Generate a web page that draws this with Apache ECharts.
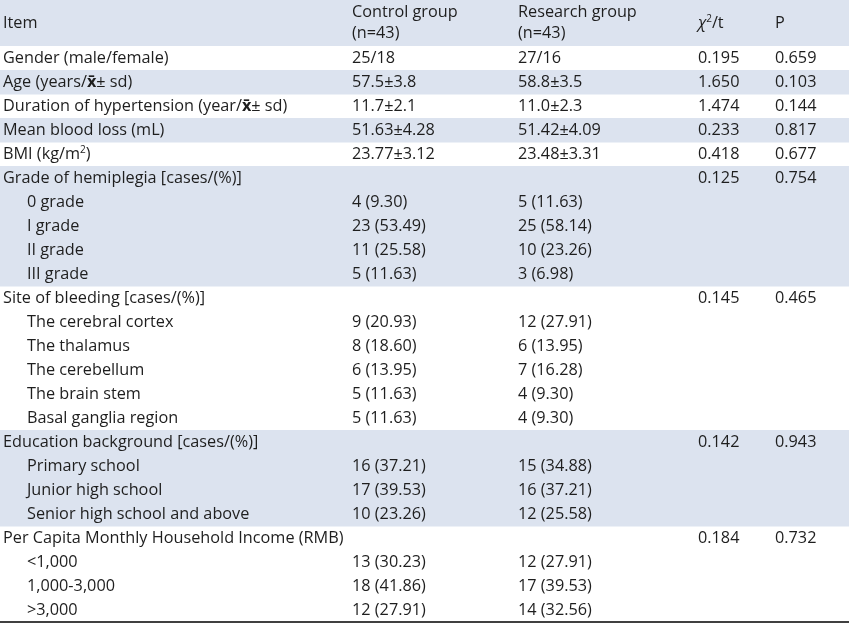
<!DOCTYPE html>
<html>
<head>
<meta charset="utf-8">
<script src="https://cdn.jsdelivr.net/npm/echarts@6.0.0/dist/echarts.min.js"></script>
<style>
html,body{margin:0;padding:0;background:#ffffff;}
#chart{width:849px;height:624px;}
</style>
</head>
<body>
<div id="chart"></div>
<script>
// ---- Table content ----
const headerItem = 'Item';
const headerControl = ['Control group', '(n=43)'];
const headerResearch = ['Research group', '(n=43)'];
const headerStat = '{chi|χ}{sup|2}/t';
const headerP = 'P';

const items = [
  'Gender (male/female)',
  'Age (years/{xb|x̄}± sd)',
  'Duration of hypertension (year/{xb|x̄}± sd)',
  'Mean blood loss (mL)',
  'BMI (kg/m{sup|2})',
  'Grade of hemiplegia [cases/(%)]',
  '0 grade',
  'I grade',
  'II grade',
  'III grade',
  'Site of bleeding [cases/(%)]',
  'The cerebral cortex',
  'The thalamus',
  'The cerebellum',
  'The brain stem',
  'Basal ganglia region',
  'Education background [cases/(%)]',
  'Primary school',
  'Junior high school',
  'Senior high school and above',
  'Per Capita Monthly Household Income (RMB)',
  '<1,000',
  '1,000-3,000',
  '>3,000'
];
const control = [
  '25/18', '57.5±3.8', '11.7±2.1', '51.63±4.28', '23.77±3.12',
  '', '4 (9.30)', '23 (53.49)', '11 (25.58)', '5 (11.63)',
  '', '9 (20.93)', '8 (18.60)', '6 (13.95)', '5 (11.63)', '5 (11.63)',
  '', '16 (37.21)', '17 (39.53)', '10 (23.26)',
  '', '13 (30.23)', '18 (41.86)', '12 (27.91)'
];
const research = [
  '27/16', '58.8±3.5', '11.0±2.3', '51.42±4.09', '23.48±3.31',
  '', '5 (11.63)', '25 (58.14)', '10 (23.26)', '3 (6.98)',
  '', '12 (27.91)', '6 (13.95)', '7 (16.28)', '4 (9.30)', '4 (9.30)',
  '', '15 (34.88)', '16 (37.21)', '12 (25.58)',
  '', '12 (27.91)', '17 (39.53)', '14 (32.56)'
];
const statValues = [
  '0.195', '1.650', '1.474', '0.233', '0.418',
  '0.125', '', '', '', '',
  '0.145', '', '', '', '', '',
  '0.142', '', '', '',
  '0.184', '', '', ''
];
const pValues = [
  '0.659', '0.103', '0.144', '0.817', '0.677',
  '0.754', '', '', '', '',
  '0.465', '', '', '', '', '',
  '0.943', '', '', '',
  '0.732', '', '', ''
];

// ---- Derived structure ----
const isSub = items.map((_, i) => control[i] !== '' && statValues[i] === '');
const groupIdx = [];
let g = -1;
items.forEach((_, i) => { if (statValues[i] !== '') g++; groupIdx.push(g); });
const shaded = groupIdx.map(v => v % 2 === 1);

// ---- Layout / style ----
const BAND = '#dce3ef';
const TEXT = '#1e1e1e';
const FONT_FAMILY = '"Open Sans", sans-serif';
const FONT_SIZE = 16.25;
const COLS = [3, 352, 518, 698, 775];
const SUB_INDENT = 27;
const HEADER_H = 44;
const RICH = {
  xb: { fontFamily: FONT_FAMILY, fontSize: FONT_SIZE, fontWeight: 'bold', fill: TEXT, color: TEXT },
  sup: { fontFamily: FONT_FAMILY, fontSize: 10, fill: TEXT, color: TEXT, verticalAlign: 'top', padding: [0, 0, 8, 0] },
  chi: { fontFamily: FONT_FAMILY, fontSize: FONT_SIZE, fontStyle: 'italic', fill: TEXT, color: TEXT }
};

const chart = echarts.init(document.getElementById('chart'), null, { renderer: 'canvas' });

function textEl(text, x, y) {
  return {
    type: 'text',
    style: {
      text: text, x: x, y: y,
      fill: TEXT,
      fontFamily: FONT_FAMILY,
      fontSize: FONT_SIZE,
      align: 'left',
      verticalAlign: 'middle',
      rich: RICH
    }
  };
}

const option = {
  animation: false,
  backgroundColor: '#ffffff',
  grid: { left: 0, right: 0, top: 46, bottom: 2, containLabel: false },
  xAxis: {
    type: 'value', min: 0, max: 1,
    axisLine: { show: true, onZero: false, lineStyle: { color: '#000000', width: 1.5 } },
    axisTick: { show: false }, axisLabel: { show: false }, splitLine: { show: false }
  },
  yAxis: {
    type: 'category', inverse: true,
    data: items.map((_, i) => String(i)),
    show: false
  },
  graphic: [
    { type: 'rect', shape: { x: 0, y: 0, width: 849, height: HEADER_H + 2 }, style: { fill: BAND }, z: -10 },
    Object.assign(textEl(headerItem, COLS[0], 23), { z: 10 }),
    Object.assign(textEl(headerControl[0], COLS[1], 12), { z: 10 }),
    Object.assign(textEl(headerControl[1], COLS[1], 33), { z: 10 }),
    Object.assign(textEl(headerResearch[0], COLS[2], 12), { z: 10 }),
    Object.assign(textEl(headerResearch[1], COLS[2], 33), { z: 10 }),
    Object.assign(textEl(headerStat, COLS[3], 23), { z: 10 }),
    Object.assign(textEl(headerP, COLS[4], 23), { z: 10 })
  ],
  series: [{
    type: 'custom',
    coordinateSystem: 'cartesian2d',
    data: items.map((_, i) => [0, i]),
    renderItem: function (params, api) {
      const i = api.value(1);
      const pt = api.coord([0, i]);
      const h = api.size([0, 1])[1];
      const cs = params.coordSys;
      const cy = pt[1];
      const children = [];
      if (shaded[i]) {
        children.push({
          type: 'rect',
          shape: { x: cs.x, y: cy - h / 2, width: cs.width, height: h + 0.6 },
          style: { fill: BAND }
        });
      }
      const cells = [items[i], control[i], research[i], statValues[i], pValues[i]];
      cells.forEach((t, k) => {
        if (!t) return;
        const x = cs.x + (k === 0 && isSub[i] ? SUB_INDENT : COLS[k]);
        children.push(textEl(t, x, cy));
      });
      return { type: 'group', children: children };
    }
  }]
};
chart.setOption(option);
</script>
</body>
</html>
